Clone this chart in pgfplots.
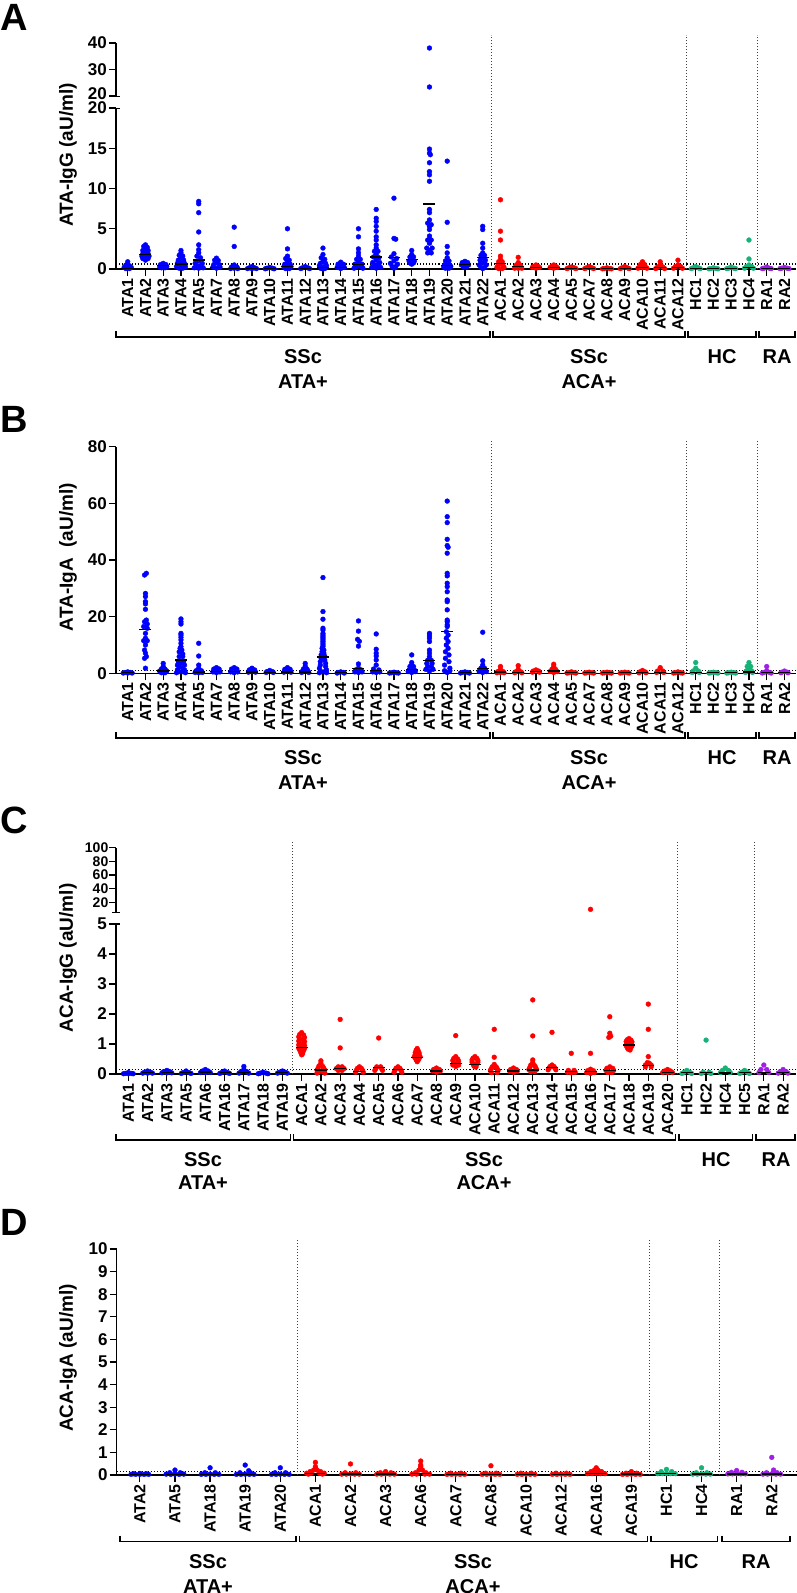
\documentclass[border=0pt]{standalone}
\usepackage{fontspec}
\setmainfont{Liberation Sans}
\usepackage{pgfplots}
\pgfplotsset{compat=1.18}
\definecolor{cblue}{RGB}{0,0,255}
\definecolor{cred}{RGB}{255,0,0}
\definecolor{cgreen}{RGB}{22,178,120}
\definecolor{cpurple}{RGB}{160,30,230}
\tikzset{
  sep/.style={dash pattern=on 1.5pt off 1.5pt, line width=0.75pt, black!75},
  cut/.style={dotted, line width=1.1pt, black},
}
\pgfplotsset{
  panel/.style={
    scale only axis, clip=false, anchor=south west, width=680pt,
    axis x line*=bottom, axis y line*=left,
    axis line style={line width=1.3pt},
    tick style={line width=1.2pt, black},
    tick align=outside, major tick length=7pt,
    xticklabel style={rotate=90, anchor=east, inner sep=2pt, font=\fontsize{16}{16}\selectfont\bfseries},
    yticklabel style={inner sep=2pt, font=\fontsize{17}{17}\selectfont\bfseries},
    /pgf/number format/assume math mode=true,
  },
  upper/.style={axis x line=none, xtick=\empty},
  dots/.style={only marks, mark=*, mark size=2.4pt},
  med/.style={only marks, mark=-, mark size=6pt, mark options={line width=1.3pt}, black},
}
\newcommand{\grp}[4]{% x1 x2 ybase (px)
  \draw[line width=1.1pt] (#1pt,-#3pt+6pt) -- (#1pt,-#3pt) -- (#2pt,-#3pt) -- (#2pt,-#3pt+6pt);}
\newcommand{\glab}[3]{\node[font=\fontsize{20}{20}\selectfont\bfseries, align=center] at (#1pt,-#2pt) {#3};}
\newcommand{\brk}[2]{\draw[line width=1.3pt] (#1pt-4pt,-#2pt) -- (#1pt+4pt,-#2pt);}
\begin{document}
\begin{tikzpicture}
\useasboundingbox (0,0) rectangle (797pt,-1593pt);
% ---------------- Panel A ----------------
\node[anchor=base west, inner sep=0, font=\fontsize{38}{38}\selectfont\bfseries] at (0pt,-30pt) {A};
\node[rotate=90, font=\fontsize{19}{19}\selectfont\bfseries] at (68pt,-155pt) {ATA-IgG (aU/ml)};
\begin{axis}[panel, at={(116pt,-96pt)}, height=53pt, upper, xmin=-0.66, xmax=37.65, ymin=20, ymax=40, ytick={20,30,40},
  yticklabels={\raisebox{4pt}{20},30,40}]
\addplot[dots, cblue] coordinates {(17,38.1) (17,23.4)};
\end{axis}
\brk{116}{96.5} \brk{116}{108.5}
\begin{axis}[panel, at={(116pt,-269pt)}, height=161pt, xmin=-0.66, xmax=37.65, ymin=0, ymax=20, ytick={0,5,10,15,20},
  xtick={0,...,37}, xticklabels={ATA1,ATA2,ATA3,ATA4,ATA5,ATA7,ATA8,ATA9,ATA10,ATA11,ATA12,ATA13,ATA14,ATA15,ATA16,ATA17,ATA18,ATA19,ATA20,ATA21,ATA22,ACA1,ACA2,ACA3,ACA4,ACA5,ACA7,ACA8,ACA9,ACA10,ACA11,ACA12,HC1,HC2,HC3,HC4,RA1,RA2}]
\draw[cut] (axis cs:-0.66,0.62) -- (axis cs:37.65,0.62);
\draw[sep] (axis cs:20.5,0) -- (axis cs:20.5,29.07);
\draw[sep] (axis cs:31.5,0) -- (axis cs:31.5,29.07);
\draw[sep] (axis cs:35.5,0) -- (axis cs:35.5,29.07);
\addplot[dots, cblue] coordinates {
(0,0.9) (-0.1,0.5) (0.1,0.4) (-0.2,0.2) (0.2,0.2) (0,0.1) (-0.1,0.05) (0.1,0.05)
(1,3.0) (0.9,2.8) (1.1,2.7) (1,2.5) (0.85,2.3) (1.15,2.3) (1,2.1) (0.85,1.9) (1.15,1.9) (1,1.75) (0.8,1.6) (1.2,1.6) (1,1.45) (0.85,1.3) (1.15,1.3) (1,1.1)
(2,0.7) (1.85,0.55) (2.15,0.55) (2,0.4) (1.8,0.3) (2.2,0.3) (1.9,0.15) (2.1,0.15)
(3,2.3) (3,2.0) (2.9,1.7) (3.1,1.6) (3,1.35) (2.85,1.1) (3.15,1.1) (3,0.9) (2.8,0.7) (3.2,0.7) (2.9,0.5) (3.1,0.5) (2.75,0.3) (3.25,0.3) (2.9,0.1) (3.1,0.1) (3,0.2)
(4,8.4) (4,8.1) (4,7.0) (4,4.6) (4,3.0) (4,2.4) (4,2.0) (3.9,1.6) (4.1,1.4) (4,1.0) (3.8,0.7) (4.2,0.7) (3.9,0.4) (4.1,0.4) (3.75,0.15) (4.25,0.15) (4,0.1)
(5,1.35) (4.9,1.1) (5.1,1.05) (5,0.8) (4.85,0.55) (5.15,0.55) (4.8,0.25) (5.2,0.25) (5,0.1)
(6,5.2) (6,2.8) (6,0.5) (5.85,0.25) (6.15,0.25) (6,0.1) (5.8,0.05) (6.2,0.05)
(7,0.3) (6.85,0.15) (7.15,0.15) (6.75,0.05) (7.25,0.05) (7,0.05)
(8,0.2) (7.85,0.1) (8.15,0.1) (7.75,0.03) (8.25,0.03)
(9,5.0) (9,2.5) (9,1.6) (8.9,1.3) (9.1,1.1) (9,0.85) (8.85,0.6) (9.15,0.6) (8.8,0.3) (9.2,0.3) (9,0.2) (8.9,0.05) (9.1,0.05)
(10,0.3) (9.85,0.15) (10.15,0.15) (9.75,0.05) (10.25,0.05)
(11,2.6) (11,1.8) (10.9,1.4) (11.1,1.2) (11,0.95) (10.85,0.7) (11.15,0.7) (10.8,0.4) (11.2,0.4) (11,0.25) (10.9,0.05) (11.1,0.05)
(12,0.85) (11.85,0.6) (12.15,0.6) (12,0.4) (11.8,0.2) (12.2,0.2) (12,0.05)
(13,5.0) (13,4.0) (13,2.5) (13,2.0) (13,1.6) (12.9,1.2) (13.1,1.2) (13,0.9) (12.8,0.6) (13.2,0.6) (12.9,0.35) (13.1,0.35) (12.75,0.1) (13.25,0.1)
(14,7.4) (14,6.3) (14,5.9) (14,5.3) (14,4.7) (14,4.0) (14,3.6) (14,3.0) (14,2.6) (13.9,2.2) (14.1,2.2) (14,1.8) (13.85,1.5) (14.15,1.4) (14,1.1) (13.8,0.8) (14.2,0.8) (13.9,0.5) (14.1,0.5) (13.75,0.2) (14.25,0.2) (14,0.1)
(15,8.8) (15,3.8) (15.1,3.7) (15,1.9) (14.85,1.5) (15.15,1.3) (15,1.0) (14.8,0.7) (15.2,0.6) (14.9,0.3) (15.1,0.3) (15,0.1)
(16,2.3) (16,1.8) (15.9,1.5) (16.1,1.5) (16,1.2) (15.85,1.0) (16.15,1.0) (15.9,0.75) (16.1,0.75) (16,0.6)
(17,14.9) (17,14.4) (17.05,14.2) (17,13.2) (17,12.1) (17,11.7) (17,10.9) (17,7.4) (17,7.0) (17,6.1) (16.9,5.7) (17.1,5.5) (17,5.3) (17,4.9) (17,4.1) (16.9,3.6) (17.1,3.6) (17,3.2) (16.85,2.6) (17.15,2.6) (17,2.3) (16.9,2.0) (17.1,2.0)
(18,13.4) (18,5.8) (18,2.8) (18,2.0) (18,1.4) (17.9,1.0) (18.1,1.0) (18,0.7) (17.85,0.5) (18.15,0.5) (17.8,0.3) (18.2,0.3) (17.9,0.1) (18.1,0.1) (18,0.2)
(19,0.95) (18.85,0.8) (19.15,0.8) (19,0.6) (18.8,0.5) (19.2,0.5) (18.9,0.3) (19.1,0.3)
(20,5.3) (20,4.9) (20,3.2) (20,2.6) (20,2.0) (19.9,1.7) (20.1,1.7) (20,1.4) (19.85,1.1) (20.15,1.1) (19.9,0.8) (20.1,0.8) (19.8,0.5) (20.2,0.5) (19.9,0.2) (20.1,0.2) (20,0.05)
};
\addplot[dots, cred] coordinates {
(21,8.6) (21,4.7) (21,3.6) (21,1.6) (21,1.2) (20.9,0.9) (21.1,0.9) (21,0.66) (20.85,0.4) (21.15,0.4) (20.8,0.2) (21.2,0.2) (20.9,0.05) (21.1,0.05)
(22,1.45) (22,0.8) (21.9,0.5) (22.1,0.5) (21.85,0.3) (22.15,0.3) (21.8,0.1) (22.2,0.1) (22,0.1)
(23,0.5) (22.9,0.35) (23.1,0.35) (22.8,0.2) (23.2,0.2) (23,0.1)
(24,0.5) (23.9,0.35) (24.1,0.35) (23.8,0.2) (24.2,0.2) (24,0.1)
(25,0.25) (24.85,0.15) (25.15,0.15) (24.75,0.05) (25.25,0.05)
(26,0.3) (25.85,0.15) (26.15,0.15) (25.75,0.05) (26.25,0.05)
(27,0.15) (26.85,0.05) (27.15,0.05) (26.75,0.02) (27.25,0.02)
(28,0.3) (27.85,0.15) (28.15,0.15) (27.75,0.05) (28.25,0.05)
(29,0.9) (28.9,0.6) (29.1,0.6) (28.85,0.35) (29.15,0.35) (28.75,0.1) (29.25,0.1) (29,0.15)
(30,0.9) (30,0.5) (29.85,0.25) (30.15,0.25) (29.75,0.05) (30.25,0.05)
(31,1.1) (31,0.5) (30.85,0.3) (31.15,0.3) (30.75,0.1) (31.25,0.1)
};
\addplot[dots, cgreen] coordinates {
(32,0.3) (31.85,0.15) (32.15,0.15) (31.75,0.05) (32.25,0.05)
(33,0.15) (32.85,0.05) (33.15,0.05) (32.75,0.02) (33.25,0.02)
(34,0.25) (33.85,0.1) (34.15,0.1) (33.75,0.05) (34.25,0.05)
(35,3.6) (35,1.25) (35,0.5) (34.85,0.3) (35.15,0.3) (34.75,0.1) (35.25,0.1)
};
\addplot[dots, cpurple] coordinates {
(36,0.25) (35.85,0.1) (36.15,0.1) (35.75,0.05) (36.25,0.05)
(37,0.2) (36.85,0.1) (37.15,0.1) (36.75,0.05) (37.25,0.05)
};
\addplot[med] coordinates {(0,0.1) (1,1.78) (2,0.4) (3,0.62) (4,1.1) (5,0.2) (6,0.1) (7,0.08) (8,0.05) (9,0.3) (10,0.1) (11,0.2) (12,0.15) (13,0.6) (14,1.5) (15,1.4) (16,1.2) (17,8.07) (18,0.4) (19,0.55) (20,1.4) (21,0.66) (22,0.3) (23,0.2) (24,0.2) (25,0.1) (26,0.1) (27,0.05) (28,0.1) (29,0.15) (30,0.15) (31,0.2) (32,0.1) (33,0.05) (34,0.1) (35,0.2) (36,0.1) (37,0.1)};
\end{axis}
\grp{116}{490}{337}{} \grp{493}{685}{337}{} \grp{688}{756}{337}{} \grp{759}{795}{337}{}
\glab{303}{357}{SSc} \glab{303}{382}{ATA+}
\glab{589}{357}{SSc} \glab{589}{382}{ACA+}
\glab{722}{357}{HC} \glab{777}{357}{RA}
% ---------------- Panel B ----------------
\node[anchor=base west, inner sep=0, font=\fontsize{38}{38}\selectfont\bfseries] at (0pt,-432pt) {B};
\node[rotate=90, font=\fontsize{19}{19}\selectfont\bfseries] at (68pt,-557pt) {ATA-IgA\ \ (aU/ml)};
\begin{axis}[panel, at={(116pt,-673.3pt)}, height=226.6pt, xmin=-0.66, xmax=37.65, ymin=0, ymax=80, ytick={0,20,40,60,80},
  xtick={0,...,37}, xticklabels={ATA1,ATA2,ATA3,ATA4,ATA5,ATA7,ATA8,ATA9,ATA10,ATA11,ATA12,ATA13,ATA14,ATA15,ATA16,ATA17,ATA18,ATA19,ATA20,ATA21,ATA22,ACA1,ACA2,ACA3,ACA4,ACA5,ACA7,ACA8,ACA9,ACA10,ACA11,ACA12,HC1,HC2,HC3,HC4,RA1,RA2}]
\draw[cut] (axis cs:-0.66,1.0) -- (axis cs:37.65,1.0);
\draw[sep] (axis cs:20.5,0) -- (axis cs:20.5,82.3);
\draw[sep] (axis cs:31.5,0) -- (axis cs:31.5,82.3);
\draw[sep] (axis cs:35.5,0) -- (axis cs:35.5,82.3);
\addplot[dots, cblue] coordinates {
(0,0.5) (-0.15,0.3) (0.15,0.3) (-0.25,0.1) (0.25,0.1) (0,0.1)
(1.05,35.3) (0.95,34.7) (1,28.2) (1,27.1) (1,25.3) (1,24.5) (1,22.6) (1.05,18.8) (0.95,18.2) (1.1,17.4) (0.9,16.5) (1.1,15.9) (1,14.1) (1,12.4) (0.9,11.5) (1.1,11.5) (1,10) (0.95,8.2) (1,7.1) (1.05,5.9) (0.95,5.3) (1,1.8)
(2,3.5) (2,2.4) (1.9,1.5) (2.1,1.5) (1.8,0.8) (2.2,0.8) (2,0.5) (1.9,0.2) (2.1,0.2)
(3,19.2) (3,18.2) (3,17.4) (3,14.1) (3,13.5) (3,12.7) (3,11.8) (3,10.6) (3,9.4) (2.95,8.8) (3.05,8.2) (2.9,7.6) (3.1,6.8) (2.9,5.9) (3.1,5.9) (2.85,4.1) (3.15,4.1) (3,3.5) (2.8,2.9) (3.2,2.9) (2.9,2.4) (3.1,1.8) (2.8,1.2) (3.2,1.2) (2.9,0.6) (3.1,0.6) (2.75,0.2) (3.25,0.2)
(4,10.6) (4,6.1) (4,2.9) (4,1.8) (3.85,0.9) (4.15,0.9) (3.8,0.3) (4.2,0.3) (4,0.2)
(5,2.0) (4.85,1.5) (5.15,1.5) (5,1.0) (4.8,0.5) (5.2,0.5) (5,0.2)
(6,2.0) (5.85,1.5) (6.15,1.5) (6,1.0) (5.8,0.5) (6.2,0.5) (6,0.2)
(7,1.8) (6.85,1.2) (7.15,1.2) (7,0.8) (6.8,0.4) (7.2,0.4)
(8,1.0) (7.85,0.6) (8.15,0.6) (7.8,0.3) (8.2,0.3)
(9,2.0) (8.85,1.4) (9.15,1.4) (9,0.8) (8.8,0.4) (9.2,0.4)
(10,3.5) (10,2.5) (9.9,1.5) (10.1,1.5) (9.85,0.8) (10.15,0.8) (9.8,0.3) (10.2,0.3)
(11,33.8) (11,21.8) (11,19.1) (11,15.9) (11,15.3) (11,14.1) (11,13.5) (11,12.9) (11,12.4) (11,11.8) (11,11.2) (11,10.6) (11,10) (11,9.4) (10.95,8.8) (11.05,8.2) (10.95,7.6) (11.05,7.1) (10.9,6.5) (11.1,6.0) (10.9,5.3) (11.1,4.7) (10.85,4.1) (11.15,3.5) (10.85,2.9) (11.15,2.4) (10.8,1.8) (11.2,1.2) (10.9,0.6) (11.1,0.6) (10.8,0.2) (11.2,0.2)
(12,0.5) (11.85,0.3) (12.15,0.3) (11.8,0.1) (12.2,0.1)
(13,18.5) (13,14.9) (12.95,12.0) (13.05,11.3) (13,9.6) (13,3.3) (13,1.8) (12.85,1.2) (13.15,1.2) (12.8,0.5) (13.2,0.5) (13,0.3)
(14,13.9) (14,8.5) (14,7.1) (14,6.1) (14,4.7) (14,2.9) (13.85,1.5) (14.15,1.2) (13.8,0.5) (14.2,0.5) (14,0.3)
(15,0.4) (14.85,0.2) (15.15,0.2) (14.75,0.1) (15.25,0.1)
(16,6.5) (16,3.8) (16,2.9) (15.9,2.4) (16.1,2.4) (16,1.8) (15.85,1.2) (16.15,1.2) (15.8,0.6) (16.2,0.6) (16,0.3)
(17,14.1) (17,13.2) (17,12.4) (17,11.2) (17,8.2) (17,7.1) (17,5.9) (16.9,4.6) (17.1,4.6) (16.85,3.5) (17.15,3.5) (16.9,2.4) (17.1,2.4) (16.8,1.4) (17.2,1.4) (17,0.8)
(18,60.8) (18,55.3) (18,53.2) (18,47.3) (18,45.1) (18.05,44.5) (18,42.4) (18,35.3) (18,34.4) (18,31.8) (18,30.6) (18,28.8) (18,25.9) (18,25.3) (18,22.4) (18,18.8) (18,18.2) (18,17.1) (18,16.5) (17.95,14.7) (18.05,13.5) (17.95,12.4) (18.05,11.2) (17.95,10) (18.05,8.8) (17.9,7.6) (18.1,6.5) (17.9,5.3) (18.1,4.1) (17.85,2.9) (18.15,1.8) (17.85,0.9) (18.15,0.9) (18,0.3)
(19,0.5) (18.85,0.3) (19.15,0.3) (18.75,0.1) (19.25,0.1)
(20,14.5) (20,4.4) (20,2.9) (19.9,1.8) (20.1,1.8) (19.85,1.2) (20.15,1.2) (19.8,0.6) (20.2,0.6) (20,0.3)
};
\addplot[dots, cred] coordinates {
(21,2.4) (21,1.4) (20.85,0.6) (21.15,0.6) (20.8,0.2) (21.2,0.2) (21,0.3)
(22,2.7) (22,1.4) (21.85,0.5) (22.15,0.5) (21.8,0.2) (22.2,0.2)
(23,1.2) (22.85,0.8) (23.15,0.8) (22.8,0.4) (23.2,0.4)
(24,3.2) (24,2.4) (23.9,1.4) (24.1,1.4) (23.8,0.6) (24.2,0.6) (24,0.3)
(25,0.5) (24.85,0.2) (25.15,0.2) (24.75,0.1) (25.25,0.1)
(26,0.4) (25.85,0.2) (26.15,0.2) (25.75,0.1) (26.25,0.1)
(27,0.4) (26.85,0.2) (27.15,0.2) (26.75,0.1) (27.25,0.1)
(28,0.4) (27.85,0.2) (28.15,0.2) (27.75,0.1) (28.25,0.1)
(29,1.0) (28.85,0.5) (29.15,0.5) (28.8,0.2) (29.2,0.2)
(30,2.0) (29.85,0.8) (30.15,0.8) (29.8,0.3) (30.2,0.3)
(31,0.5) (30.85,0.2) (31.15,0.2) (30.75,0.1) (31.25,0.1)
};
\addplot[dots, cgreen] coordinates {
(32,3.8) (32,1.8) (31.85,0.8) (32.15,0.8) (31.8,0.3) (32.2,0.3)
(33,0.4) (32.85,0.2) (33.15,0.2) (32.75,0.1) (33.25,0.1)
(34,0.4) (33.85,0.2) (34.15,0.2) (33.75,0.1) (34.25,0.1)
(35,3.8) (35,2.9) (34.9,2.4) (35.1,2.4) (35,1.8) (34.85,0.8) (35.15,0.8) (34.8,0.3) (35.2,0.3)
};
\addplot[dots, cpurple] coordinates {
(36,2.4) (36,0.9) (35.85,0.3) (36.15,0.3) (35.75,0.1) (36.25,0.1)
(37,0.8) (36.85,0.4) (37.15,0.4) (36.8,0.2) (37.2,0.2)
};
\addplot[med] coordinates {(0,0.2) (1,15.5) (2,0.8) (3,4.7) (4,0.5) (5,0.6) (6,0.6) (7,0.5) (8,0.3) (9,0.5) (10,0.5) (11,5.8) (12,0.2) (13,1.8) (14,0.9) (15,0.2) (16,1.4) (17,4.6) (18,14.7) (19,0.2) (20,1.8) (21,0.5) (22,0.4) (23,0.7) (24,0.8) (25,0.2) (26,0.2) (27,0.2) (28,0.2) (29,0.3) (30,0.4) (31,0.2) (32,0.3) (33,0.2) (34,0.2) (35,0.5) (36,0.3) (37,0.3)};
\end{axis}
\grp{116}{490}{738}{} \grp{493}{685}{738}{} \grp{688}{756}{738}{} \grp{759}{795}{738}{}
\glab{303}{758}{SSc} \glab{303}{783}{ATA+}
\glab{589}{758}{SSc} \glab{589}{783}{ACA+}
\glab{722}{758}{HC} \glab{777}{758}{RA}
% ---------------- Panel C ----------------
\node[anchor=base west, inner sep=0, font=\fontsize{38}{38}\selectfont\bfseries] at (0pt,-833pt) {C};
\node[rotate=90, font=\fontsize{19}{19}\selectfont\bfseries] at (68pt,-958pt) {ACA-IgG (aU/ml)};
\begin{axis}[panel, at={(116pt,-912.6pt)}, height=64.9pt, upper, xmin=-0.64, xmax=34.67, ymin=5, ymax=100, ytick={20,40,60,80,100},
  yticklabel style={inner sep=0.5pt, font=\fontsize{14}{14}\selectfont\bfseries}]
\addplot[dots, cred] coordinates {(24,9.8)};
\end{axis}
\brk{116}{912.6} \brk{116}{924}
\begin{axis}[panel, at={(116pt,-1074pt)}, height=150pt, xmin=-0.64, xmax=34.67, ymin=0, ymax=5, ytick={0,1,2,3,4,5},
  xtick={0,...,34}, xticklabels={ATA1,ATA2,ATA3,ATA5,ATA6,ATA16,ATA17,ATA18,ATA19,ACA1,ACA2,ACA3,ACA4,ACA5,ACA6,ACA7,ACA8,ACA9,ACA10,ACA11,ACA12,ACA13,ACA14,ACA15,ACA16,ACA17,ACA18,ACA19,ACA20,HC1,HC2,HC4,HC5,RA1,RA2}]
\draw[cut] (axis cs:-0.64,0.16) -- (axis cs:34.67,0.16);
\draw[sep] (axis cs:8.5,0) -- (axis cs:8.5,7.8);
\draw[sep] (axis cs:28.5,0) -- (axis cs:28.5,7.8);
\draw[sep] (axis cs:32.5,0) -- (axis cs:32.5,7.8);
\addplot[dots, cblue] coordinates {
(0,0.05) (-0.15,0.02) (0.15,0.02) (-0.25,0.01) (0.25,0.01) (0,0.01)
(1,0.1) (0.85,0.06) (1.15,0.06) (0.75,0.03) (1.25,0.03) (1,0.03)
(2,0.12) (1.85,0.08) (2.15,0.08) (1.75,0.04) (2.25,0.04) (2,0.04)
(3,0.1) (2.85,0.05) (3.15,0.05) (2.75,0.02) (3.25,0.02)
(4,0.15) (3.85,0.1) (4.15,0.1) (3.75,0.05) (4.25,0.05) (4,0.05)
(5,0.1) (4.85,0.05) (5.15,0.05) (4.75,0.02) (5.25,0.02)
(6,0.25) (6,0.15) (5.85,0.08) (6.15,0.08) (5.75,0.03) (6.25,0.03)
(7,0.06) (6.85,0.03) (7.15,0.03) (6.75,0.01) (7.25,0.01)
(8,0.1) (7.85,0.06) (8.15,0.06) (7.75,0.03) (8.25,0.03)
};
\addplot[dots, cred] coordinates {
(9,1.38) (8.9,1.32) (9.1,1.3) (8.85,1.24) (9.15,1.22) (8.9,1.17) (9.1,1.15) (8.85,1.1) (9.15,1.08) (8.9,1.03) (9.1,1.02) (8.85,0.97) (9.15,0.95) (9,0.9) (8.85,0.86) (9.15,0.85) (8.9,0.8) (9.1,0.78) (8.95,0.72) (9.05,0.68) (9,0.64)
(10,0.44) (10,0.36) (9.9,0.27) (10.1,0.25) (9.85,0.19) (10.15,0.19) (9.8,0.13) (10.2,0.13) (9.9,0.08) (10.1,0.08) (9.8,0.03) (10.2,0.03)
(11,1.82) (11,0.87) (10.9,0.24) (11.1,0.24) (10.8,0.18) (11.2,0.18) (10.9,0.12) (11.1,0.12)
(12,0.24) (11.9,0.19) (12.1,0.19) (11.85,0.13) (12.15,0.13) (11.8,0.06) (12.2,0.06)
(13,1.2) (12.9,0.24) (13.1,0.24) (12.85,0.18) (13.15,0.18) (12.8,0.12) (13.2,0.12)
(14,0.24) (13.9,0.19) (14.1,0.19) (13.85,0.13) (14.15,0.13) (13.8,0.06) (14.2,0.06)
(15,0.85) (14.95,0.8) (15.05,0.78) (14.9,0.72) (15.1,0.7) (14.9,0.65) (15.1,0.63) (14.85,0.58) (15.15,0.58) (14.9,0.53) (15.1,0.52) (14.95,0.47) (15.05,0.46) (15,0.41)
(16,0.2) (15.85,0.15) (16.15,0.15) (15.8,0.1) (16.2,0.1) (16,0.06)
(17,1.28) (17,0.58) (16.9,0.52) (17.1,0.5) (16.85,0.45) (17.15,0.43) (16.9,0.38) (17.1,0.36) (16.85,0.3) (17.15,0.3) (17,0.25)
(18,0.58) (17.9,0.53) (18.1,0.52) (17.85,0.47) (18.15,0.45) (17.85,0.4) (18.15,0.39) (17.9,0.33) (18.1,0.32) (17.95,0.26) (18.05,0.23)
(19,1.49) (19,0.56) (19,0.32) (18.9,0.24) (19.1,0.24) (18.85,0.18) (19.15,0.18) (18.8,0.12) (19.2,0.12) (18.85,0.05) (19.15,0.05)
(20,0.2) (19.85,0.15) (20.15,0.15) (19.8,0.1) (20.2,0.1) (20,0.06)
(21,2.47) (21,1.27) (21,0.47) (21,0.38) (20.9,0.3) (21.1,0.28) (20.85,0.22) (21.15,0.22) (20.8,0.15) (21.2,0.15) (20.9,0.08) (21.1,0.08)
(22,1.39) (22,0.3) (21.9,0.25) (22.1,0.25) (21.85,0.2) (22.15,0.2) (21.8,0.14) (22.2,0.14)
(23,0.69) (22.85,0.12) (23.15,0.12) (22.8,0.06) (23.2,0.06) (23,0.04)
(24,0.69) (24,0.16) (23.85,0.11) (24.15,0.11) (23.8,0.05) (24.2,0.05) (24,0.02)
(25,1.91) (25,1.36) (25.05,1.26) (24.95,1.22) (25,0.24) (24.85,0.19) (25.15,0.19) (24.8,0.12) (25.2,0.12) (24.9,0.05) (25.1,0.05)
(26,1.18) (25.9,1.14) (26.1,1.13) (25.85,1.08) (26.15,1.07) (25.9,1.02) (26.1,1.0) (25.85,0.95) (26.15,0.94) (25.9,0.89) (26.1,0.88) (25.95,0.83) (26.05,0.8)
(27,2.33) (27,1.49) (27,0.58) (26.95,0.38) (27.05,0.36) (26.85,0.3) (27.15,0.3) (26.85,0.24) (27.15,0.24)
(28,0.15) (27.85,0.1) (28.15,0.1) (27.75,0.05) (28.25,0.05) (28,0.05)
};
\addplot[dots, cgreen] coordinates {
(29,0.12) (28.85,0.06) (29.15,0.06) (28.75,0.02) (29.25,0.02)
(30,1.13) (29.85,0.06) (30.15,0.06) (29.75,0.02) (30.25,0.02)
(31,0.2) (30.85,0.12) (31.15,0.12) (30.75,0.05) (31.25,0.05)
(32,0.12) (31.85,0.06) (32.15,0.06) (31.75,0.02) (32.25,0.02)
};
\addplot[dots, cpurple] coordinates {
(33,0.3) (32.85,0.15) (33.15,0.15) (32.75,0.05) (33.25,0.05)
(34,0.15) (33.85,0.08) (34.15,0.08) (33.75,0.03) (34.25,0.03)
};
\addplot[med] coordinates {(0,0.02) (1,0.05) (2,0.06) (3,0.04) (4,0.07) (5,0.04) (6,0.04) (7,0.02) (8,0.04) (9,0.89) (10,0.13) (11,0.18) (12,0.08) (13,0.21) (14,0.16) (15,0.54) (16,0.1) (17,0.36) (18,0.32) (19,0.08) (20,0.1) (21,0.13) (22,0.21) (23,0.08) (24,0.08) (25,0.11) (26,0.97) (27,0.28) (28,0.05) (29,0.05) (30,0.05) (31,0.03) (32,0.05) (33,0.05) (34,0.05)};
\end{axis}
\grp{116}{290.5}{1140}{} \grp{293.5}{675.5}{1140}{} \grp{679}{752.5}{1140}{} \grp{756}{795}{1140}{}
\glab{203}{1160}{SSc} \glab{203}{1183}{ATA+}
\glab{484}{1160}{SSc} \glab{484}{1183}{ACA+}
\glab{716}{1160}{HC} \glab{776}{1160}{RA}
% ---------------- Panel D ----------------
\node[anchor=base west, inner sep=0, font=\fontsize{38}{38}\selectfont\bfseries] at (0pt,-1235pt) {D};
\node[rotate=90, font=\fontsize{19}{19}\selectfont\bfseries] at (68pt,-1358pt) {ACA-IgA (aU/ml)};
\begin{axis}[panel, at={(116.7pt,-1475pt)}, height=226pt, xmin=-0.66, xmax=18.71, ymin=0, ymax=10, ytick={0,...,10},
  xtick={0,...,18}, xticklabels={ATA2,ATA5,ATA18,ATA19,ATA20,ACA1,ACA2,ACA3,ACA6,ACA7,ACA8,ACA10,ACA12,ACA16,ACA19,HC1,HC4,RA1,RA2}]
\draw[cut] (axis cs:-0.66,0.17) -- (axis cs:18.71,0.17);
\draw[sep] (axis cs:4.5,0) -- (axis cs:4.5,10.4);
\draw[sep] (axis cs:14.5,0) -- (axis cs:14.5,10.4);
\draw[sep] (axis cs:16.5,0) -- (axis cs:16.5,10.4);
\addplot[dots, cblue] coordinates {
(-0.25,0.03) (-0.12,0.03) (0,0.03) (0.12,0.03) (0.25,0.03) (-0.18,0.06) (0.18,0.06) (0,0.07)
(1,0.22) (0.85,0.1) (1.15,0.1) (0.75,0.04) (0.88,0.03) (1,0.04) (1.12,0.03) (1.25,0.04)
(2,0.32) (1.85,0.1) (2.15,0.1) (1.75,0.03) (1.88,0.03) (2,0.04) (2.12,0.03) (2.25,0.03)
(3,0.44) (3.1,0.19) (2.85,0.1) (3.15,0.1) (2.75,0.03) (2.88,0.03) (3,0.04) (3.12,0.03) (3.25,0.03)
(4,0.32) (3.85,0.1) (4.15,0.1) (3.75,0.03) (3.88,0.03) (4,0.04) (4.12,0.03) (4.25,0.03)
};
\addplot[dots, cred] coordinates {
(5,0.56) (5,0.37) (5,0.3) (4.95,0.22) (5.05,0.22) (4.85,0.15) (5.15,0.15) (4.75,0.08) (4.88,0.08) (5.12,0.08) (5.25,0.08) (4.8,0.04) (5.2,0.04)
(6,0.49) (5.85,0.1) (6.15,0.1) (5.75,0.04) (5.88,0.04) (6,0.05) (6.12,0.04) (6.25,0.04)
(7,0.15) (6.85,0.1) (7.15,0.1) (6.75,0.04) (6.88,0.04) (7,0.05) (7.12,0.04) (7.25,0.04)
(8,0.62) (8,0.44) (8,0.37) (8,0.3) (7.95,0.22) (8.05,0.22) (7.85,0.1) (8.15,0.1) (7.75,0.04) (7.88,0.04) (8.12,0.04) (8.25,0.04)
(8.85,0.08) (9.15,0.08) (8.75,0.03) (8.88,0.03) (9,0.04) (9.12,0.03) (9.25,0.03)
(10,0.41) (9.85,0.08) (10.15,0.08) (9.75,0.03) (9.88,0.03) (10,0.04) (10.12,0.03) (10.25,0.03)
(10.85,0.08) (11.15,0.08) (10.75,0.03) (10.88,0.03) (11,0.04) (11.12,0.03) (11.25,0.03)
(11.85,0.08) (12.15,0.08) (11.75,0.03) (11.88,0.03) (12,0.04) (12.12,0.03) (12.25,0.03)
(13,0.32) (12.95,0.22) (13.05,0.22) (12.85,0.15) (13.15,0.15) (12.75,0.06) (12.88,0.06) (13.12,0.06) (13.25,0.06) (13,0.08)
(14,0.15) (13.85,0.08) (14.15,0.08) (13.75,0.03) (13.88,0.03) (14,0.04) (14.12,0.03) (14.25,0.03)
};
\addplot[dots, cgreen] coordinates {
(15,0.25) (14.85,0.15) (15.15,0.15) (14.75,0.06) (14.88,0.06) (15,0.07) (15.12,0.06) (15.25,0.06)
(16,0.32) (15.85,0.1) (16.15,0.1) (15.75,0.04) (15.88,0.04) (16,0.05) (16.12,0.04) (16.25,0.04)
};
\addplot[dots, cpurple] coordinates {
(17,0.2) (16.85,0.12) (17.15,0.12) (16.75,0.05) (16.88,0.05) (17,0.06) (17.12,0.05) (17.25,0.05)
(18,0.78) (18.05,0.22) (17.85,0.1) (18.15,0.1) (17.75,0.04) (17.88,0.04) (18,0.05) (18.12,0.04) (18.25,0.04)
};
\addplot[med, mark size=10pt] coordinates {(0,0.02) (1,0.03) (2,0.03) (3,0.03) (4,0.03) (5,0.08) (6,0.04) (7,0.05) (8,0.06) (9,0.03) (10,0.03) (11,0.03) (12,0.03) (13,0.08) (14,0.04) (15,0.06) (16,0.05) (17,0.05) (18,0.05)};
\end{axis}
\grp{120}{296}{1541.7}{} \grp{299.5}{647.5}{1541.7}{} \grp{651}{717.5}{1541.7}{} \grp{722}{790}{1541.7}{}
\glab{208}{1562}{SSc} \glab{208}{1587}{ATA+}
\glab{473}{1562}{SSc} \glab{473}{1587}{ACA+}
\glab{684}{1562}{HC} \glab{756}{1562}{RA}
\end{tikzpicture}
\end{document}
